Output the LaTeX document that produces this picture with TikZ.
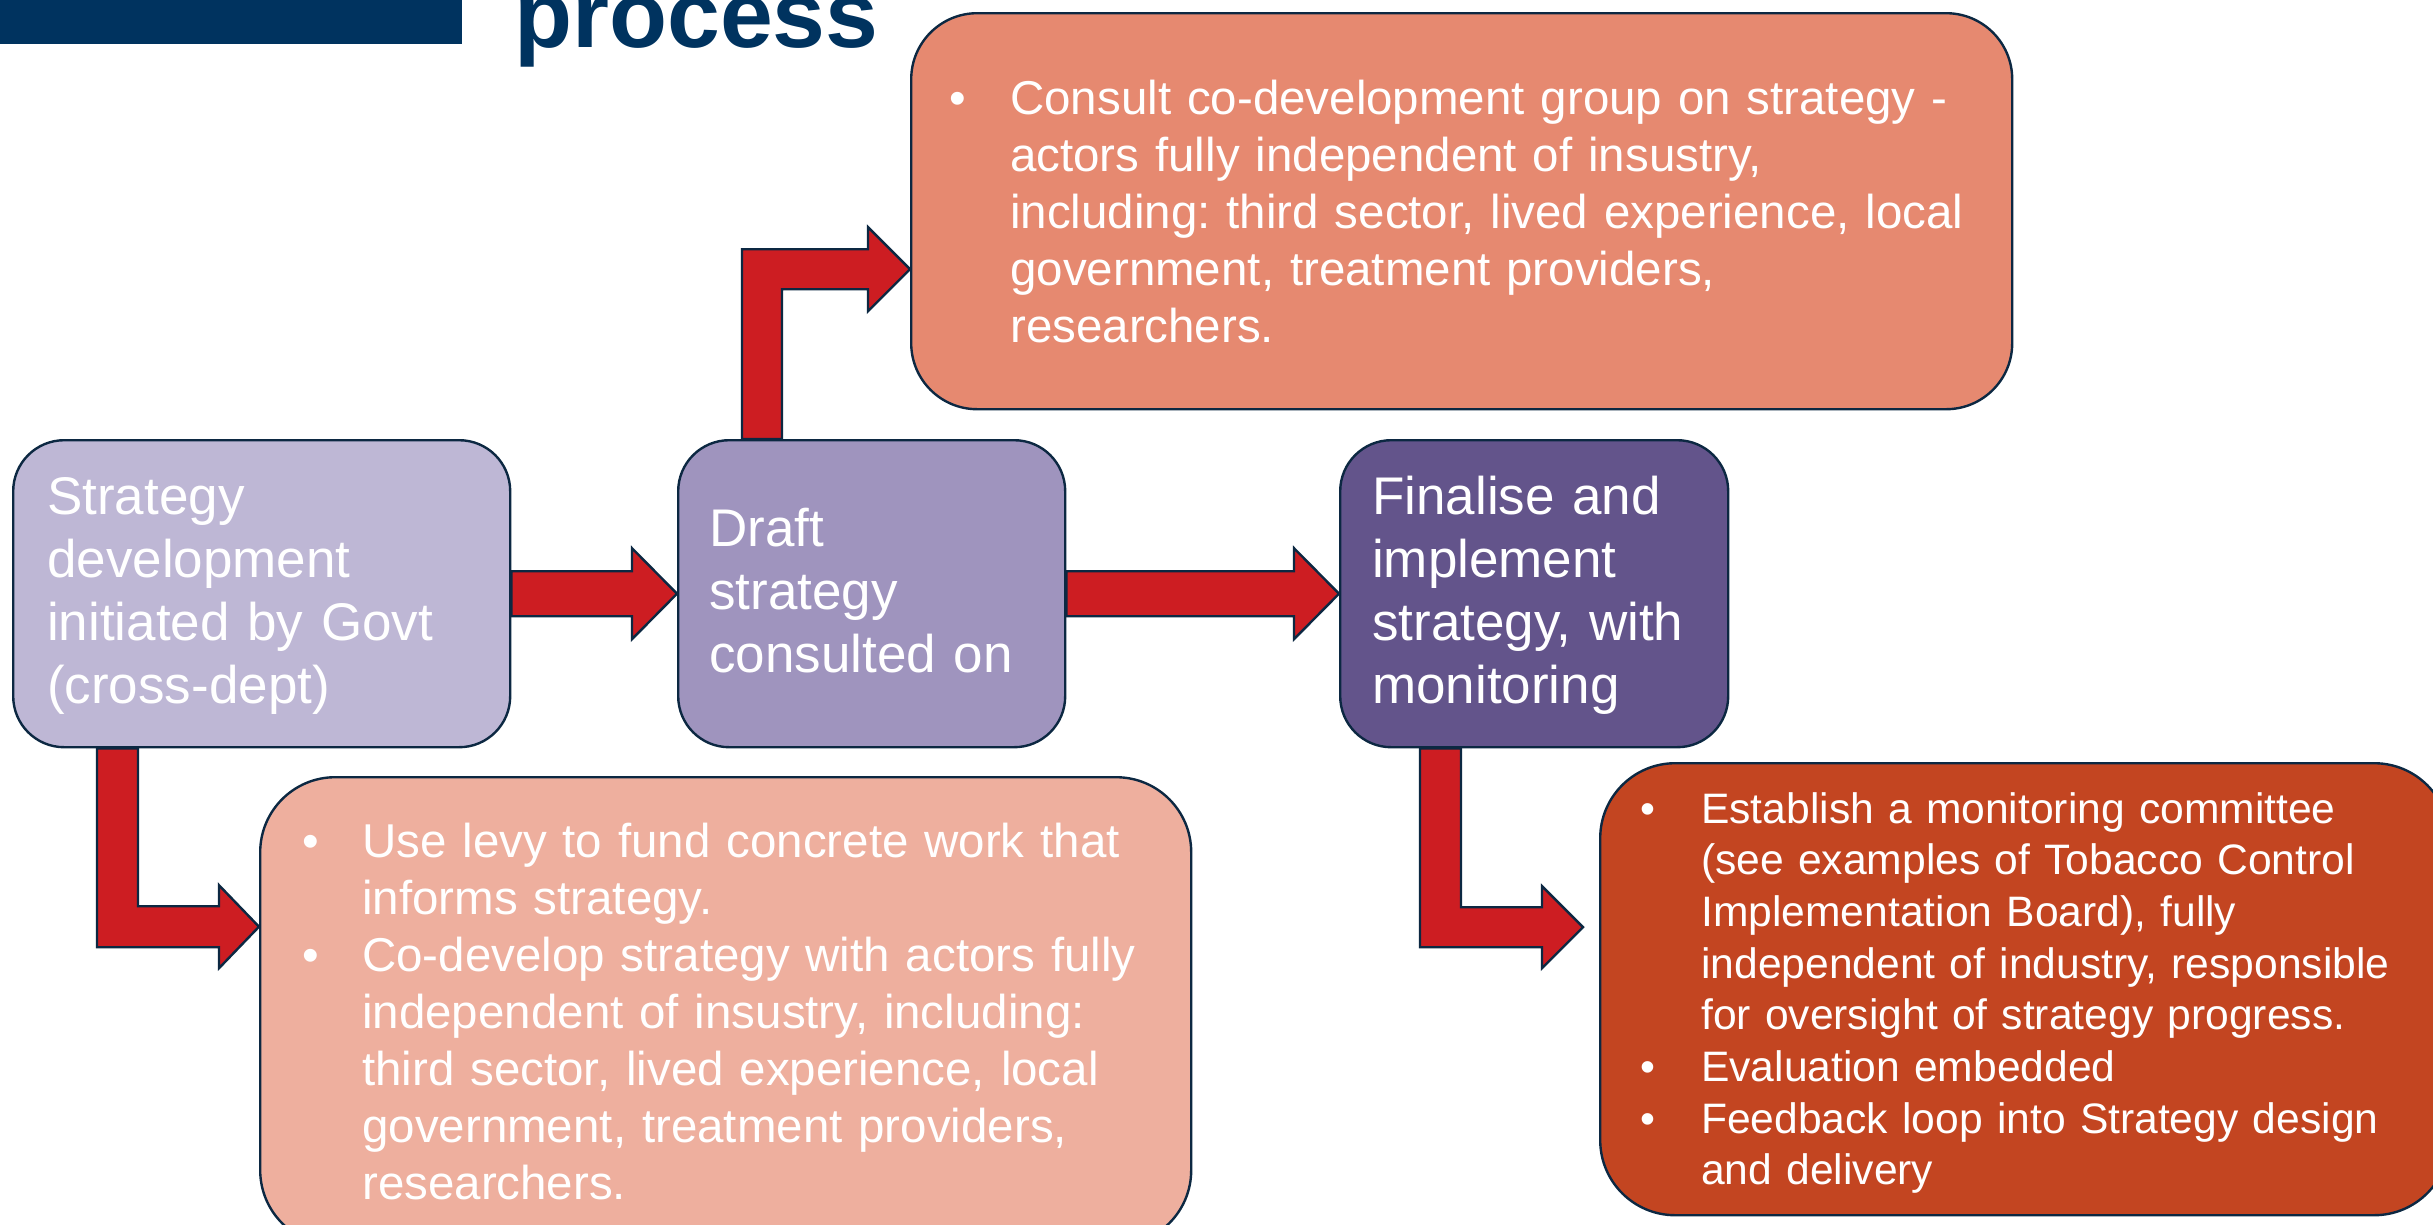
\documentclass[tikz,border=0pt]{standalone}
\usepackage{fontspec}
\setmainfont{Liberation Sans}
\usetikzlibrary{calc,backgrounds}
\frenchspacing

\definecolor{navy}{RGB}{0,51,95}
\definecolor{edge}{RGB}{12,40,66}
\definecolor{arrowred}{RGB}{205,29,34}
\definecolor{lilac}{RGB}{190,183,213}
\definecolor{mauve}{RGB}{159,148,190}
\definecolor{plum}{RGB}{99,84,139}
\definecolor{coral}{RGB}{230,137,112}
\definecolor{peach}{RGB}{238,175,158}
\definecolor{rust}{RGB}{195,69,33}

\tikzset{
  stagebox/.style={draw=edge, line width=2.4pt, rounded corners=#1,
    inner sep=0pt, anchor=north west},
  blockarrow/.style={draw=edge, fill=arrowred, line width=2.4pt, line join=miter},
  bigtext/.style={text=white, align=left, inner sep=0pt, anchor=base west,
    text width=#1, font=\fontsize{53}{63}\selectfont\frenchspacing},
  listtext/.style={text=white, align=left, inner sep=0pt, anchor=base west,
    text width=#1, font=\fontsize{47.5}{57}\selectfont\frenchspacing},
  smalllist/.style={text=white, align=left, inner sep=0pt, anchor=base west,
    text width=#1, font=\fontsize{42.6}{51.7}\selectfont\frenchspacing},
}
\newcommand{\bul}[1]{\makebox[#1pt][l]{•}}
\newcommand{\ind}[1]{\hspace*{#1pt}}

\begin{document}
\begin{tikzpicture}[x=1pt, y=-1pt]
\useasboundingbox (0,0) rectangle (2433,1224);

% heading fragment
\fill[navy] (0,0) rectangle (462,44);
\node[anchor=base west, inner sep=0pt, text=navy,
      font=\fontsize{95}{110}\selectfont\bfseries] (heading) at (514,47) {process};

% stage boxes
\node[stagebox=51, fill=lilac, minimum width=497, minimum height=307] (init) at (12,439) {};
\node[stagebox=51, fill=mauve, minimum width=387, minimum height=307] (draft) at (677,439) {};
\node[stagebox=51, fill=plum,  minimum width=388, minimum height=307] (final) at (1339,439) {};
\node[stagebox=66, fill=coral, minimum width=1101, minimum height=396] (consult) at (910,12) {};
\node[stagebox=75, fill=peach, minimum width=931, minimum height=468] (levy) at (259,776) {};
\node[stagebox=75, fill=rust,  minimum width=849, minimum height=452] (monitor) at (1599,762) {};

% stage texts
\node[bigtext=460] (initText) at (47,514)
  {Strategy\\development\\initiated by Govt\\(cross-dept)};
\node[bigtext=360] (draftText) at (709,546)
  {Draft\\strategy\\consulted on};
\node[bigtext=360] (finalText) at (1372,514)
  {Finalise and\\implement\\strategy, with\\monitoring};

\node[listtext=1100] (consultText) at (949,114)
  {\bul{61}Consult co-development group on strategy -\\
   \ind{61}actors fully independent of insustry,\\
   \ind{61}including: third sector, lived experience, local\\
   \ind{61}government, treatment providers,\\
   \ind{61}researchers.};

\node[listtext=900] (levyText) at (302,857)
  {\bul{60}Use levy to fund concrete work that\\
   \ind{60}informs strategy.\\
   \bul{60}Co-develop strategy with actors fully\\
   \ind{60}independent of insustry, including:\\
   \ind{60}third sector, lived experience, local\\
   \ind{60}government, treatment providers,\\
   \ind{60}researchers.};

\node[smalllist=820] (monitorText) at (1640,823)
  {\bul{61}Establish a monitoring committee\\
   \ind{61}(see examples of Tobacco Control\\
   \ind{61}Implementation Board), fully\\
   \ind{61}independent of industry, responsible\\
   \ind{61}for oversight of strategy progress.\\
   \bul{61}Evaluation embedded\\
   \bul{61}Feedback loop into Strategy design\\
   \ind{61}and delivery};

% connecting block arrows, behind the boxes
\coordinate (cFoot) at ($(draft.north west)+(65,0)$);
\coordinate (cTip)  at ($(consult.west)+(0,58)$);
\coordinate (dFoot) at ($(init.south west)+(85,0)$);
\coordinate (dTip)  at ($(levy.west)+(0,-84.5)$);
\coordinate (eFoot) at ($(final.south west)+(81,0)$);
\coordinate (eTip)  at ($(monitor.west)+(-16,-62)$);

\begin{scope}[on background layer]
  % initiation -> draft
  \draw[blockarrow] ($(init.east)+(0,-22.5)$) -- ($(draft.west)+(-45,-22.5)$)
    -- ($(draft.west)+(-45,-45.5)$) -- (draft.west) -- ($(draft.west)+(-45,45.5)$)
    -- ($(draft.west)+(-45,22.5)$) -- ($(init.east)+(0,22.5)$) -- cycle;
  % draft -> finalise
  \draw[blockarrow] ($(draft.east)+(0,-22.5)$) -- ($(final.west)+(-45,-22.5)$)
    -- ($(final.west)+(-45,-45.5)$) -- (final.west) -- ($(final.west)+(-45,45.5)$)
    -- ($(final.west)+(-45,22.5)$) -- ($(draft.east)+(0,22.5)$) -- cycle;
  % draft -> consultation group
  \draw[blockarrow] (cFoot) -- ($(cTip)+(-168,-20)$) -- ($(cTip)+(-42,-20)$)
    -- ($(cTip)+(-42,-42)$) -- (cTip) -- ($(cTip)+(-42,42)$) -- ($(cTip)+(-42,20)$)
    -- ($(cTip)+(-128,20)$) -- ($(cFoot)+(40,0)$) -- cycle;
  % initiation -> levy work
  \draw[blockarrow] (dFoot) -- ($(dTip)+(-162,20.5)$) -- ($(dTip)+(-40,20.5)$)
    -- ($(dTip)+(-40,41.5)$) -- (dTip) -- ($(dTip)+(-40,-41.5)$) -- ($(dTip)+(-40,-20.5)$)
    -- ($(dTip)+(-121,-20.5)$) -- ($(dFoot)+(41,0)$) -- cycle;
  % finalise -> monitoring
  \draw[blockarrow] (eFoot) -- ($(eTip)+(-163,20)$) -- ($(eTip)+(-41,20)$)
    -- ($(eTip)+(-41,41)$) -- (eTip) -- ($(eTip)+(-41,-41)$) -- ($(eTip)+(-41,-20)$)
    -- ($(eTip)+(-122,-20)$) -- ($(eFoot)+(41,0)$) -- cycle;
\end{scope}
\end{tikzpicture}
\end{document}
